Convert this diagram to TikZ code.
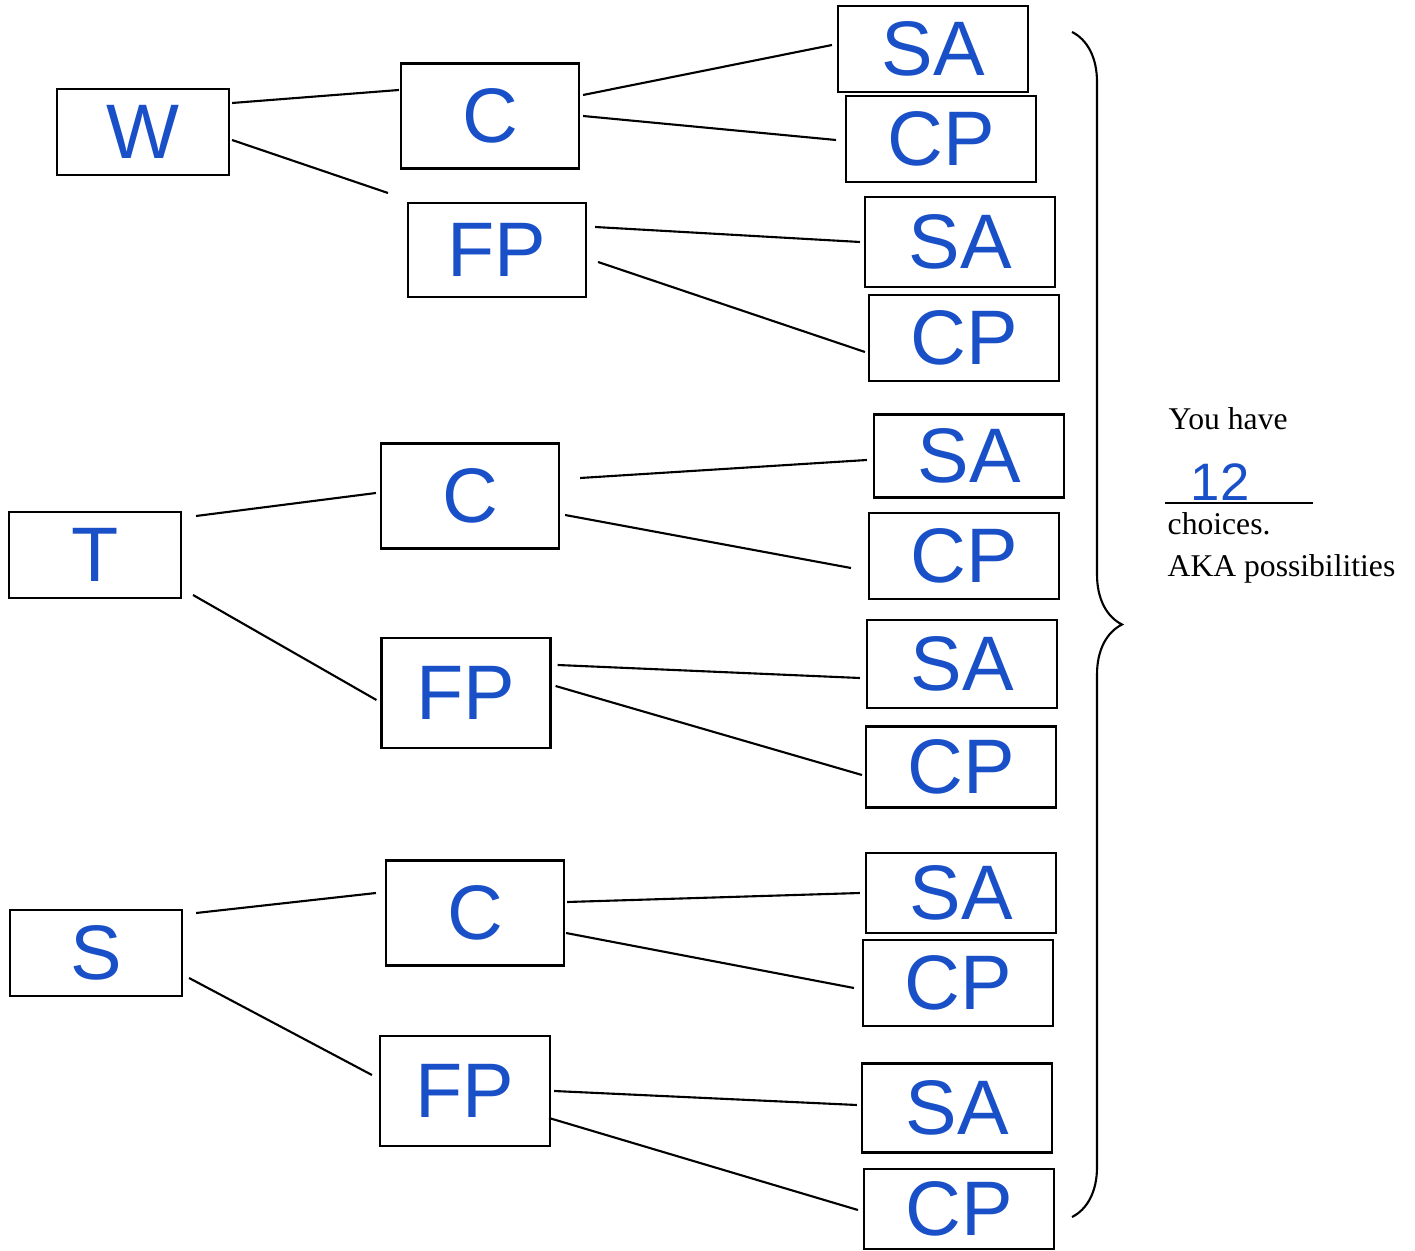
\documentclass[tikz,border=0pt]{standalone}
\usepackage{fontspec}
\setmainfont{Liberation Serif}
\newfontfamily\handfont{Liberation Sans}
\usetikzlibrary{decorations.pathreplacing}
\definecolor{penblue}{RGB}{25,80,200}
\begin{document}
\begin{tikzpicture}[
        choice/.style={draw, line width=0.6pt, inner sep=0pt, text=penblue, font=\handfont\fontsize{22}{22}\selectfont},
        first/.style={choice, minimum width=1.72cm, minimum height=0.86cm},
        second/.style={choice, minimum width=1.78cm, minimum height=1.05cm},
        third/.style={choice, minimum width=1.9cm, minimum height=0.86cm},
        note/.style={anchor=base west, inner sep=0pt, font=\fontsize{9}{12}\selectfont}
    ]
        \useasboundingbox (0,0) rectangle (14.15,-12.51);

        % First choice
        \node[first] (W) at (1.43,-1.32) {W};
        \node[first] (T) at (0.95,-5.55) {T};
        \node[first] (S) at (0.96,-9.53) {S};

        % Second choice
        \node[second] (C1) at (4.90,-1.16) {C};
        \node[second, minimum height=0.94cm] (FP1) at (4.97,-2.50) {FP};
        \node[second] (C2) at (4.70,-4.96) {C};
        \node[second, minimum width=1.69cm, minimum height=1.10cm] (FP2) at (4.66,-6.93) {FP};
        \node[second] (C3) at (4.75,-9.13) {C};
        \node[second, minimum width=1.70cm, minimum height=1.10cm] (FP3) at (4.65,-10.91) {FP};

        % Third choice
        \node[third] (SA1) at (9.33,-0.49) {SA};
        \node[third] (CP1) at (9.41,-1.39) {CP};
        \node[third, minimum height=0.90cm] (SA2) at (9.60,-2.42) {SA};
        \node[third] (CP2) at (9.64,-3.38) {CP};
        \node[third, minimum height=0.83cm] (SA3) at (9.69,-4.56) {SA};
        \node[third] (CP3) at (9.64,-5.56) {CP};
        \node[third, minimum height=0.88cm] (SA4) at (9.62,-6.64) {SA};
        \node[third, minimum height=0.81cm] (CP4) at (9.61,-7.67) {CP};
        \node[third, minimum height=0.80cm] (SA5) at (9.61,-8.93) {SA};
        \node[third] (CP5) at (9.58,-9.83) {CP};
        \node[third, minimum height=0.89cm] (SA6) at (9.57,-11.08) {SA};
        \node[third, minimum height=0.80cm] (CP6) at (9.59,-12.09) {CP};

        % Branches
        \foreach \a/\ax/\ay/\b/\bx/\by in {
                W/0.02/0.29/C1/-0.01/0.26, W/0.02/-0.08/FP1/-0.19/0.57,
                C1/0.03/0.21/SA1/-0.05/0.04, C1/0.03/0/CP1/-0.09/-0.01,
                FP1/0.08/0.23/SA2/-0.04/0, FP1/0.11/-0.12/CP2/-0.03/-0.14,
                T/0.14/0.39/C2/-0.04/0.03, T/0.11/-0.40/FP2/-0.04/-0.07,
                C2/0.20/0.18/SA3/-0.06/-0.04, C2/0.05/-0.19/CP3/-0.17/-0.12,
                FP2/0.06/0.28/SA4/-0.06/-0.14, FP2/0.04/0.07/CP4/-0.03/-0.08,
                S/0.13/0.40/C3/-0.09/0.20, S/0.06/-0.25/FP3/-0.07/0.16,
                C3/0.02/0.11/SA5/-0.05/0, C3/0.01/-0.20/CP5/-0.08/-0.05,
                FP3/0.03/0/SA6/-0.04/0.03, FP3/-0.02/-0.27/CP6/-0.05/-0.01} {
            \draw[line width=0.6pt] ([xshift=\ax cm, yshift=\ay cm]\a.east) -- ([xshift=\bx cm, yshift=\by cm]\b.west);
        }

        % Brace round all outcomes
        \draw[line width=0.6pt, decorate, decoration={brace, amplitude=0.5cm}] (10.72,-0.32) -- (10.72,-12.17);

        % Count
        \node[note] (have) at (11.68,-4.30) {You have};
        \node[text=penblue, font=\handfont\fontsize{15}{15}\selectfont, inner sep=0pt] (twelve) at (12.20,-4.82) {12};
        \coordinate (blankL) at (11.65,-5.03);
        \coordinate (blankR) at (13.13,-5.03);
        \draw[line width=0.6pt] (blankL) -- (blankR);
        \node[note] (choices) at (11.67,-5.35) {choices.};
        \node[note] (aka) at (11.67,-5.77) {AKA possibilities};
\end{tikzpicture}
\end{document}
